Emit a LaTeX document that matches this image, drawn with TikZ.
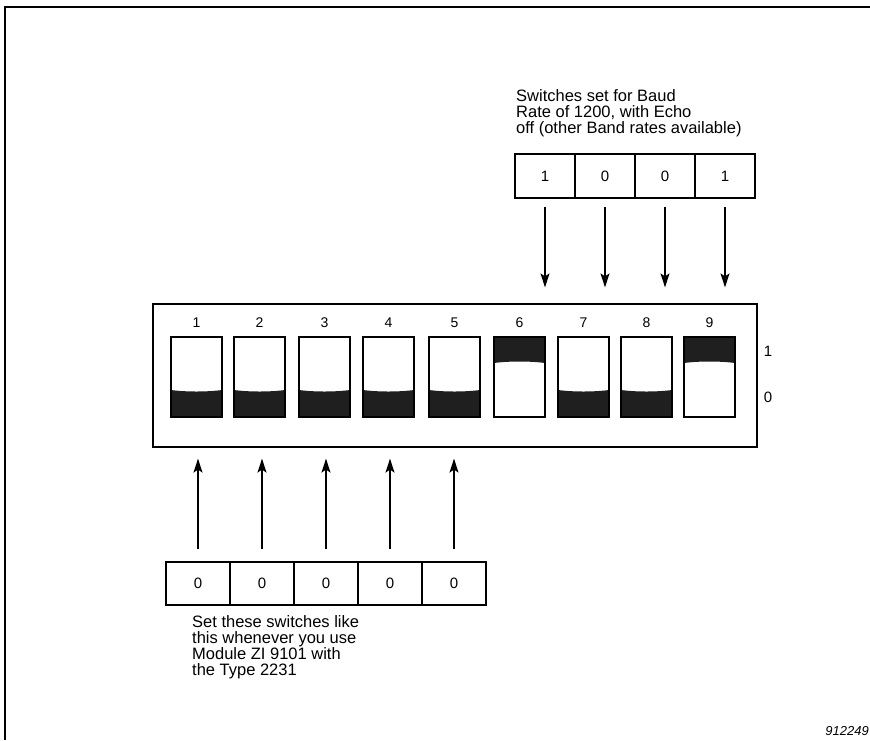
\documentclass[tikz,border=0pt]{standalone}
\usepackage{fontspec}
\setmainfont{Liberation Sans}
\usetikzlibrary{arrows.meta}
\begin{document}
\begin{tikzpicture}[x=1pt,y=-1pt,
  swbox/.style={draw,line width=1.2pt,minimum width=51pt,minimum height=80pt,inner sep=0pt},
  cell/.style={draw,line width=1.2pt,minimum height=44pt,inner sep=0pt,font=\fontsize{15}{15}\selectfont},
  arr/.style={line width=1.3pt,-{Stealth[length=14pt,width=9pt,inset=3pt]}},
  num/.style={font=\fontsize{14}{14}\selectfont,inner sep=0pt},
  note/.style={font=\fontsize{16.5}{16}\selectfont,align=left,inner sep=0pt,anchor=north west}]
\useasboundingbox (0,0) rectangle (870,740);
\draw[line width=1.4pt] (5,740) -- (5,7) -- (870,7);
\node[draw,line width=1.2pt,minimum width=604pt,minimum height=143pt,inner sep=0pt] (panel) at (455,375.5) {};
\foreach \i/\x/\s in {1/171/0,2/234/0,3/299/0,4/363/0,5/429/0,6/494/1,7/558/0,8/621/0,9/684/1}{
  \ifnum\s=0
    \fill[black!88] (\x,417) -- (\x,390) .. controls (\x+15,392) and (\x+36,392) .. (\x+51,390) -- (\x+51,417) -- cycle;
  \else
    \fill[black!88] (\x,337) -- (\x,363) .. controls (\x+15,361) and (\x+36,361) .. (\x+51,363) -- (\x+51,337) -- cycle;
  \fi
  \node[swbox] (s\i) at (\x+25.5,377) {};
  \node[num] (n\i) at (\x+25.5,323) {\i};
}
\node[num,font=\fontsize{15}{15}\selectfont] (one) at (768,351) {1};
\node[num,font=\fontsize{15}{15}\selectfont] (zero) at (768,397) {0};
\foreach \i/\v in {1/1,2/0,3/0,4/1}{
  \node[cell,minimum width=60pt] (t\i) at (485+60*\i,176) {\v};
  \draw[arr,shorten >=16pt] ([yshift=-8pt]t\i.south) -- (t\i.south |- panel.north);
}
\foreach \i in {1,...,5}{
  \node[cell,minimum width=64pt,minimum height=43pt] (c\i) at (134+64*\i,583.5) {0};
  \draw[arr,shorten >=11pt] ([yshift=12pt]c\i.north) -- (c\i.north |- panel.south);
}
\node[note] (toptext) at (516,89) {Switches set for Baud\\Rate of 1200, with Echo\\off (other Band rates available)};
\node[note] (bottext) at (192,615) {Set these switches like\\this whenever you use\\Module ZI 9101 with\\the Type 2231};
\node[font=\fontsize{13}{13}\selectfont\itshape,anchor=base east,inner sep=0pt] (code) at (869,735) {912249};
\end{tikzpicture}
\end{document}
